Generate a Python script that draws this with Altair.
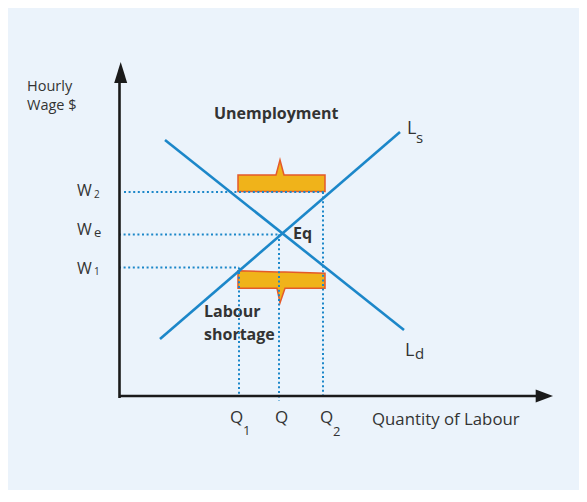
import altair as alt
import pandas as pd

# ---------------- data (Quantity of Labour, Hourly Wage) in chart units ----------------
curve_names = ["Ld", "Ls"]
curve_q_start = [4.6, 4.1]
curve_w_start = [25.7, 5.8]
curve_q_end = [28.5, 28.1]
curve_w_end = [6.7, 26.5]

wage_names = ["W2", "We", "W1"]
wage_vals = [20.5, 16.25, 12.95]
qty_names = ["Q1", "Q", "Q2"]
qty_vals = [12.0, 16.0, 20.4]

# Unemployment (surplus) bracket
surplus_q = [11.9, 15.7, 16.1, 16.5, 20.6]
surplus_top = [22.2, 22.2, 23.7, 22.2, 22.2]
surplus_bottom = [20.55, 20.55, 20.55, 20.55, 20.55]
# Labour shortage bracket
shortage_q = [11.9, 15.8, 16.1, 16.6, 20.6]
shortage_top = [12.63, 12.51, 12.50, 12.49, 12.37]
shortage_bottom = [10.87, 10.87, 9.4, 10.87, 10.87]

# axis extents
x_axis_end = 41.7
x_arrow_tip = 43.4
y_axis_end = 31.4
y_arrow_tip = 33.5

# ---------------- layout ----------------
W, H = 571, 482
PX = 10.0
X0, Y0 = 111, 389
xs = alt.Scale(domain=[-X0 / PX, (W - X0) / PX], nice=False, zero=False)
ys = alt.Scale(domain=[-(H - Y0) / PX, Y0 / PX], nice=False, zero=False)

BLUE = "#1C87C9"
DARK = "#1a1a1a"
TXT = "#333333"
FONT = "Open Sans"


def X(f):
    return alt.X(f, type="quantitative", scale=xs, axis=None)


def Y(f):
    return alt.Y(f, type="quantitative", scale=ys, axis=None)


# brackets
br_rows = []
for q, t, b in zip(surplus_q, surplus_top, surplus_bottom):
    br_rows.append({"shape": "surplus", "q": q, "top": t, "bottom": b})
for q, t, b in zip(shortage_q, shortage_top, shortage_bottom):
    br_rows.append({"shape": "shortage", "q": q, "top": t, "bottom": b})
br_df = pd.DataFrame(br_rows)
brackets = alt.Chart(br_df).mark_area(
    fill="#F0B31A", stroke="#E45A2A", strokeWidth=1.5, interpolate="linear"
).encode(x=X("q"), y=Y("top"), y2="bottom", detail="shape:N")

# dotted guides
g_rows = [
    {"x": 0.5, "y": wage_vals[0], "x2": surplus_q[-1], "y2": wage_vals[0]},
    {"x": 0.0, "y": wage_vals[1], "x2": qty_vals[1], "y2": wage_vals[1]},
    {"x": 0.0, "y": wage_vals[2], "x2": qty_vals[0], "y2": wage_vals[2]},
    {"x": qty_vals[0], "y": wage_vals[2], "x2": qty_vals[0], "y2": 0.0},
    {"x": qty_vals[1], "y": wage_vals[1], "x2": qty_vals[1], "y2": -0.35},
    {"x": qty_vals[2], "y": wage_vals[0], "x2": qty_vals[2], "y2": 0.0},
]
guides = alt.Chart(pd.DataFrame(g_rows)).mark_rule(
    color=BLUE, strokeWidth=2, strokeDash=[2, 2.6]
).encode(x=X("x"), y=Y("y"), x2="x2", y2="y2")

# supply / demand
c_df = pd.DataFrame({"name": curve_names, "x": curve_q_start, "y": curve_w_start,
                     "x2": curve_q_end, "y2": curve_w_end})
curves = alt.Chart(c_df).mark_rule(color=BLUE, strokeWidth=2.6).encode(
    x=X("x"), y=Y("y"), x2="x2", y2="y2")

# axes
a_df = pd.DataFrame([
    {"x": 0.05, "y": -0.1, "x2": 0.05, "y2": y_axis_end},
    {"x": 0.0, "y": 0.1, "x2": x_axis_end, "y2": 0.1},
])
axes = alt.Chart(a_df).mark_rule(color=DARK, strokeWidth=2.6).encode(
    x=X("x"), y=Y("y"), x2="x2", y2="y2")

up_arrow = alt.Chart(pd.DataFrame({"x": [0.17], "y": [y_arrow_tip]})).mark_point(
    shape="M0,-1L0.62,1L-0.62,1Z", size=441, filled=True, fill=DARK,
    opacity=1, strokeWidth=0, yOffset=10.5).encode(x=X("x"), y=Y("y"))
right_arrow = alt.Chart(pd.DataFrame({"x": [x_arrow_tip], "y": [0.1]})).mark_point(
    shape="M1,0L-1,-0.75L-1,0.75Z", size=299, filled=True, fill=DARK,
    opacity=1, strokeWidth=0, xOffset=-8.65).encode(x=X("x"), y=Y("y"))


def text_layer(labels, xv, yv, size, weight="normal", align="left"):
    df = pd.DataFrame({"t": labels, "x": xv, "y": yv})
    return alt.Chart(df).mark_text(
        font=FONT, fontSize=size, fontWeight=weight, align=align,
        baseline="middle", color=TXT
    ).encode(x=X("x"), y=Y("y"), text="t:N")


t_axis_title = text_layer(["Hourly", "Wage $"], [-9.2, -9.2], [31.0, 29.15], 14.5)
t_x_title = text_layer(["Quantity of Labour"], [25.3], [-2.3], 16.8)
t_bold = text_layer(["Unemployment", "Eq", "Labour", "shortage"],
                    [9.5, 17.4, 8.5, 8.5], [28.35, 16.35, 8.55, 6.25], 16, "bold")
t_L = text_layer(["L", "L"], [28.8, 28.6], [26.85, 4.6], 18)
t_Lsub = text_layer(["s", "d"], [29.7, 29.6], [25.9, 4.3], 15)
t_W = text_layer(["W", "W", "W"], [-4.2, -4.2, -4.2], [20.65, 16.75, 12.85], 16)
t_Wsub_num = text_layer(["2", "1"], [-2.5, -2.5], [20.25, 12.55], 10)
t_Wsub_e = text_layer(["e"], [-2.5], [16.45], 13)
t_Q = text_layer(["Q", "Q", "Q"], [11.75, 16.25, 20.75], [-2.1, -2.1, -2.1], 17, "normal", "center")
t_Qsub = text_layer(["1", "2"], [12.4, 21.4], [-3.4, -3.5], 13)

chart = alt.layer(
    t_axis_title, t_x_title, t_bold, t_L, t_Lsub, t_W, t_Wsub_num, t_Wsub_e, t_Q, t_Qsub,
    brackets, guides, curves, axes, up_arrow, right_arrow,
).properties(
    width=W, height=H, autosize=alt.AutoSizeParams(type="none"), padding=0,
    background="#EBF3FB"
).configure_view(stroke=None)

chart.save("out.html", embed_options={"renderer": "svg", "actions": False})
